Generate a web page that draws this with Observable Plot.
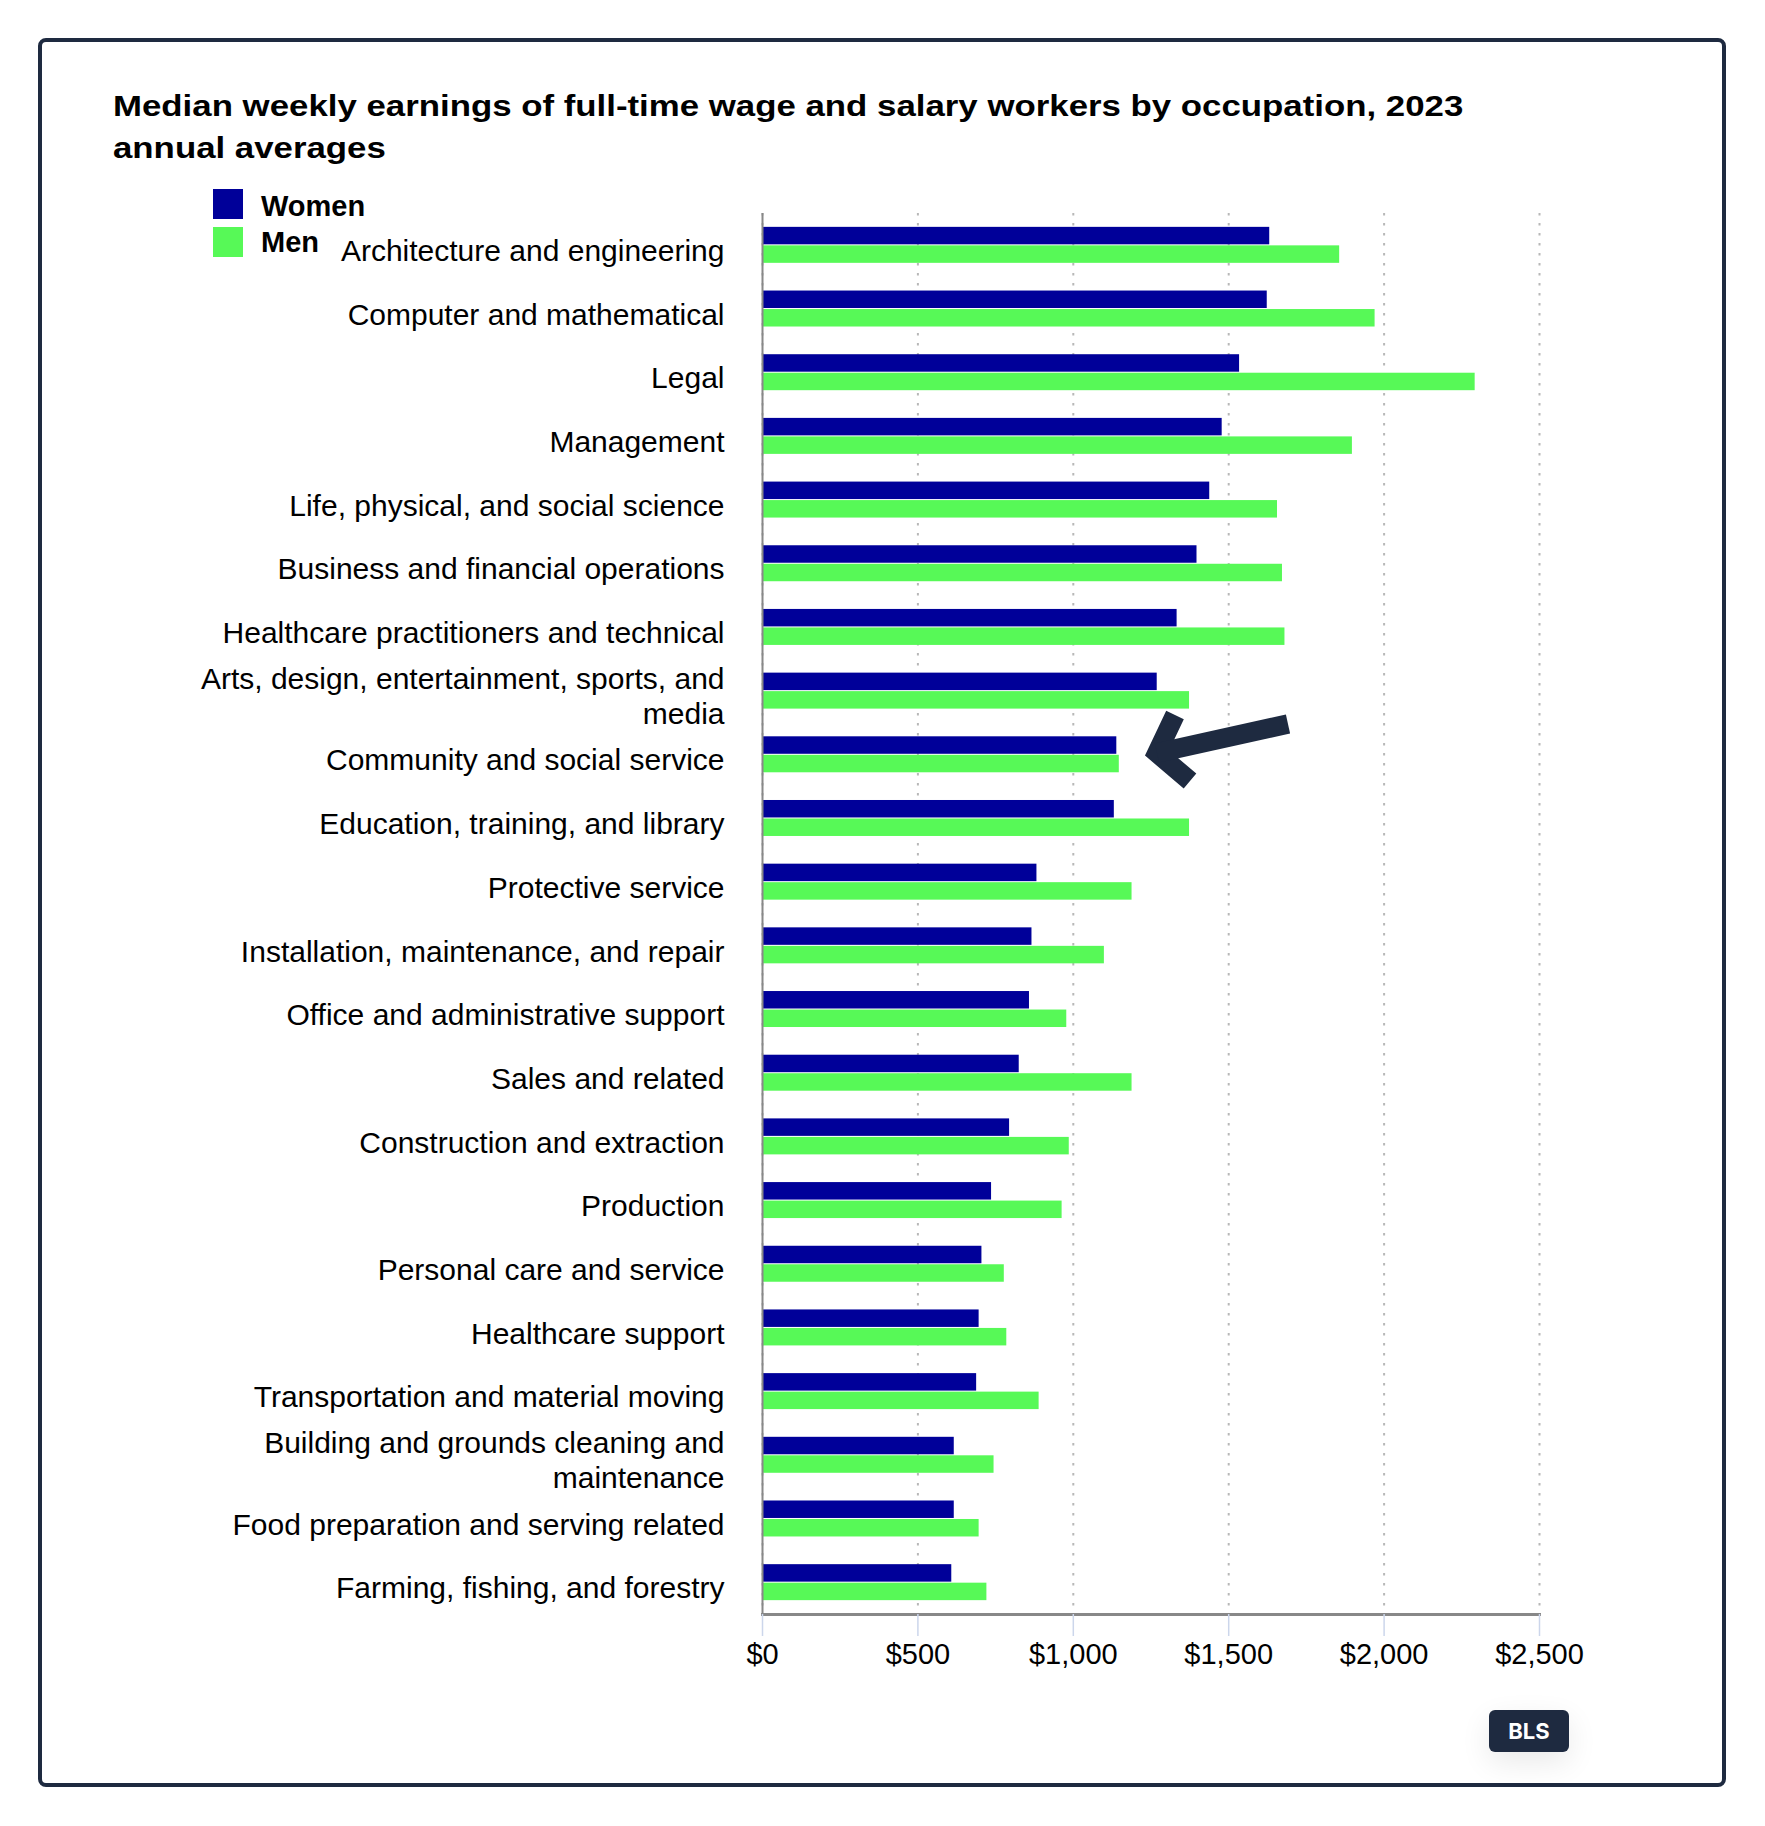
<!DOCTYPE html>
<html>
<head>
<meta charset="utf-8">
<script src="https://cdn.jsdelivr.net/npm/d3@7"></script>
<script src="https://cdn.jsdelivr.net/npm/@observablehq/plot@0.6"></script>
<style>
  html, body { margin: 0; padding: 0; background: #fff; }
  body { width: 1765px; height: 1826px; position: relative; overflow: hidden; font-family: 'Liberation Sans', Arial, Helvetica, sans-serif; }
  #frame { position: absolute; left: 38px; top: 38px; width: 1688px; height: 1749px; box-sizing: border-box; border: 4px solid #1e2a40; border-radius: 8px; }
  #title { position: absolute; left: 113px; top: 85px; font-weight: bold; font-size: 29.5px; line-height: 42px; color: #000; white-space: nowrap; transform: scaleX(1.18); transform-origin: 0 0; }
  .sw { position: absolute; left: 213px; width: 30px; height: 30px; }
  .lg { position: absolute; left: 261px; font-weight: bold; font-size: 29px; line-height: 29px; color: #000; white-space: nowrap; }
  #chart { position: absolute; left: 0; top: 180px; }
  #arrow { position: absolute; left: 0; top: 0; pointer-events: none; }
  #badge { position: absolute; left: 1489px; top: 1710px; width: 80px; height: 42px; background: #1e2a40; border-radius: 6px; color: #fff; font-family: Inter, 'Liberation Sans', sans-serif; font-weight: 700; font-size: 22px; line-height: 42px; text-align: center; box-shadow: 0 10px 30px rgba(0,0,0,0.09); }
</style>
</head>
<body>
<div id="frame"></div>
<div id="title">Median weekly earnings of full-time wage and salary workers by occupation, 2023<br>annual averages</div>
<div class="sw" id="swW" style="top:189px;"></div>
<div class="lg" id="lgW" style="top:192px;"></div>
<div class="sw" id="swM" style="top:227px;"></div>
<div class="lg" id="lgM" style="top:228px;"></div>
<div id="chart"></div>
<svg id="arrow" width="1765" height="1826">
  <polyline points="1175,715 1157,753 1190,781" fill="none" stroke="#1e2a40" stroke-width="19.5" stroke-linejoin="miter" stroke-miterlimit="10"/>
  <line x1="1157" y1="753" x2="1288" y2="724" stroke="#1e2a40" stroke-width="19.5"/>
</svg>
<div id="badge">BLS</div>
<script>
const categories = [
  "Architecture and engineering",
  "Computer and mathematical",
  "Legal",
  "Management",
  "Life, physical, and social science",
  "Business and financial operations",
  "Healthcare practitioners and technical",
  "Arts, design, entertainment, sports, and media",
  "Community and social service",
  "Education, training, and library",
  "Protective service",
  "Installation, maintenance, and repair",
  "Office and administrative support",
  "Sales and related",
  "Construction and extraction",
  "Production",
  "Personal care and service",
  "Healthcare support",
  "Transportation and material moving",
  "Building and grounds cleaning and maintenance",
  "Food preparation and serving related",
  "Farming, fishing, and forestry"
];
const categoryLabels = [
  "Architecture and engineering",
  "Computer and mathematical",
  "Legal",
  "Management",
  "Life, physical, and social science",
  "Business and financial operations",
  "Healthcare practitioners and technical",
  "Arts, design, entertainment, sports, and\nmedia",
  "Community and social service",
  "Education, training, and library",
  "Protective service",
  "Installation, maintenance, and repair",
  "Office and administrative support",
  "Sales and related",
  "Construction and extraction",
  "Production",
  "Personal care and service",
  "Healthcare support",
  "Transportation and material moving",
  "Building and grounds cleaning and\nmaintenance",
  "Food preparation and serving related",
  "Farming, fishing, and forestry"
];
const women = [1632, 1624, 1535, 1479, 1439, 1398, 1334, 1270, 1140, 1132, 883, 867, 859, 826, 795, 737, 706, 697, 689, 617, 617, 609];
const men   = [1857, 1971, 2293, 1898, 1657, 1673, 1681, 1374, 1148, 1374, 1189, 1100, 979, 1189, 987, 964, 778, 786, 890, 745, 697, 722];
const seriesNames = ["Women", "Men"];
const seriesColors = ["#000099", "#57f957"];
const xTicks = [0, 500, 1000, 1500, 2000, 2500];

// legend
document.getElementById("swW").style.background = seriesColors[0];
document.getElementById("swM").style.background = seriesColors[1];
document.getElementById("lgW").textContent = seriesNames[0];
document.getElementById("lgM").textContent = seriesNames[1];

const rows = categories.map((c, i) => ({category: c, women: women[i], men: men[i]}));
const labelOf = new Map(categories.map((c, i) => [c, categoryLabels[i]]));
const fmt = d3.format(",");

const chart = Plot.plot({
  width: 1765,
  height: 1525,
  marginTop: 33,
  marginBottom: 91,
  marginLeft: 762,
  marginRight: 226,
  style: {fontFamily: "'Liberation Sans', Arial, Helvetica, sans-serif", background: "transparent", color: "#000", overflow: "visible"},
  x: {domain: [0, 2500], label: null},
  y: {domain: categories, paddingInner: 0.435, paddingOuter: 0.2175, round: false, label: null},
  marks: [
    Plot.gridX(xTicks, {stroke: "#b8b8b8", strokeOpacity: 1, strokeWidth: 2, strokeDasharray: "2.5,7.5"}),
    Plot.barX(rows, {y: "category", x: "women", fill: seriesColors[0], insetBottom: 18.5}),
    Plot.barX(rows, {y: "category", x: "men", fill: seriesColors[1], insetTop: 18.5}),
    Plot.ruleX([0], {stroke: "#888", strokeWidth: 2}),
    Plot.frame({anchor: "bottom", stroke: "#888", strokeWidth: 3}),
    Plot.axisY({tickSize: 0, tickPadding: 38, fontSize: 30, lineHeight: 1.1667, dy: 4.5, fill: "#000", label: null, tickFormat: d => labelOf.get(d)}),
    Plot.axisX(xTicks, {tickSize: 22, tickPadding: 7, stroke: "#ccd6eb", strokeWidth: 1.5, strokeOpacity: 1, fontSize: 29, fill: "#000", label: null, tickFormat: d => "$" + fmt(d)})
  ]
});
document.getElementById("chart").appendChild(chart);
</script>
</body>
</html>
